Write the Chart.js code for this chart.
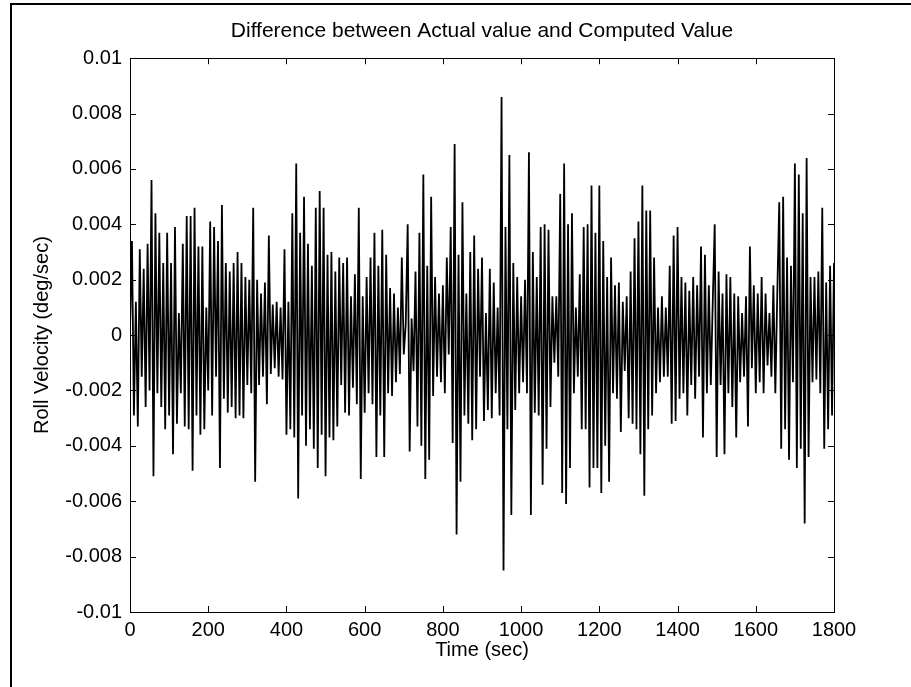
<!DOCTYPE html>
<html>
<head>
<meta charset="utf-8">
<script src="https://cdn.jsdelivr.net/npm/chart.js@4.4.1/dist/chart.umd.min.js"></script>
<style>
  html, body { margin: 0; padding: 0; background: #fff; }
  #wrap { width: 911px; height: 687px; }
</style>
</head>
<body>
<div id="wrap"><canvas id="diff-chart" width="911" height="687"></canvas></div>
<script>
// sampling step of the series (sec)
const sampleStep = 5;

// actual - computed roll velocity, in 1e-3 deg/sec, one value per sample
const rollDiffMilli = [
  0.2, 3.4, -2.9, 1.2, -3.3, 3.1, -1.5, 2.4, -2.6, 3.3, -2.0,
  5.6, -5.1, 4.4, -2.1, 3.7, -2.6, 2.6, -3.4, 3.7, -2.9, 2.6, -4.3, 3.9, -3.2, 0.8, -2.1,
  3.3, -3.3, 4.3, -3.4, 4.3, -4.9, 4.6, -2.9, 3.2, -3.6, 3.2, -3.4, 1.0, -2.0, 4.1, -2.9,
  3.9, -1.5, 3.4, -4.8, 4.7, -2.3, 2.6, -2.8, 2.3, -2.6, 2.6, -3.0, 3.0, -2.9,
  2.6, -3.0, 2.1, -1.8, 2.0, -2.1, 4.6, -5.3, 2.0, -1.8, 1.5, -1.5, 1.9, -2.5, 3.6, -1.4,
  1.1, -1.2, 1.2, -1.5, 1.0, -1.6, 3.1, -3.6, 1.2, -3.4, 4.4, -3.7, 6.2, -5.9, 3.7, -2.9,
  5.0, -4.0, 3.3, -3.4, 2.5, -4.1, 4.6, -4.8, 5.2, -3.6,
  4.6, -5.1, 2.9, -3.7, 3.0, -3.8, 2.3, -3.3, 2.8, -1.8, 2.6, -2.8, 2.8, -2.9, 1.4, -1.9,
  2.2, -2.5, 4.6, -5.2, 1.4, -2.8, 2.1, -2.1, 2.8, -2.5, 3.7, -4.4, 2.5, -2.9, 3.8, -4.4,
  2.9, -2.1, 1.7, -2.2, 1.5, -1.7, 1.0, -1.4, 2.8, -0.7, 0.4,
  4.0, -4.2, 0.6, -1.3, 2.3, -3.3, 3.7, -4.0, 5.8, -5.2, 2.5, -4.5, 5.0, -2.2, 2.1, -1.5,
  1.5, -1.7, 1.8, -2.1, 2.8, -0.7, 3.9, -3.9, 6.9, -7.2, 2.9, -5.3, 4.8, -2.9, 1.5, -3.2,
  3.0, -3.8, 3.6, -3.4, 2.4, -1.5, 2.8, -3.1, 0.8, -2.7, 2.4, -3.0,
  1.9, -2.1, 1.0, -2.9, 8.6, -8.5, 3.9, -3.4, 6.5, -6.5, 2.6, -2.7, 2.1, -2.1, 1.4, -1.7,
  2.0, -2.1, 6.6, -6.5, 3.0, -2.8, 2.1, -2.9, 3.9, -5.4, 4.0, -4.1, 3.8, -2.6, 1.4, -1.0,
  1.4, -1.5, 5.1, -5.7, 6.2, -6.1, 4.0, -4.8, 4.4, -2.1, 1.0, -1.5, 2.2,
  -3.4, 3.9, -3.4, 4.0, -5.5, 5.4, -4.8, 3.7, -4.8, 5.4, -5.7, 3.4, -4.0, 2.1, -5.3, 2.8,
  -2.1, 1.8, -2.3, 1.9, -3.5, 1.2, -1.3, 1.4, -3.0, 2.3, -3.2, 3.5, -3.4, 4.1, -4.3, 5.4,
  -5.8, 4.5, -3.4, 4.5, -2.9, 2.8, -2.1, 1.0, -1.7, 1.4, -1.5,
  1.0, -1.5, 2.5, -3.2, 3.6, -3.1, 3.9, -2.3, 2.1, -2.1, 1.9, -2.9, 1.6, -1.8, 2.1, -2.3,
  1.8, -1.5, 3.2, -3.7, 2.9, -2.1, 1.8, -1.8, 1.2, 4.0, -4.4, 2.3, -1.8, 1.5, -4.3, 2.2,
  -2.1, 2.1, -2.6, 1.5, -3.7, 1.4, -1.7, 0.8, -1.5, 1.4, -3.3, 3.2,
  -1.2, 1.8, -2.1, 1.5, -1.7, 2.1, -2.1, 1.5, -1.1, 0.8, -1.5, 1.8, -2.1, 1.5, 4.8, -4.1,
  5.0, -3.4, 2.8, -4.5, 2.5, -1.7, 6.2, -4.8, 5.8, -4.1, 4.4, -6.8, 6.4, -4.4, 2.1, -1.7,
  2.1, -1.6, 2.3, -2.1, 4.6, -4.1, 1.9, -3.4, 2.5, -2.9, 2.6
];

const xTicks = [0, 200, 400, 600, 800, 1000, 1200, 1400, 1600, 1800];
const yTicks = [-0.01, -0.008, -0.006, -0.004, -0.002, 0, 0.002, 0.004, 0.006, 0.008, 0.01];
const yTickLabels = ["-0.01", "-0.008", "-0.006", "-0.004", "-0.002", "0",
                     "0.002", "0.004", "0.006", "0.008", "0.01"];

const timeSec = rollDiffMilli.map((_, i) => i * sampleStep);
const points = rollDiffMilli.map((v, i) => ({ x: timeSec[i], y: v / 1000 }));

const textFont = { family: "'Liberation Sans', Arial, sans-serif", size: 20, weight: "normal" };

// white page with the figure frame (left + top edge)
const figureFrame = {
  id: "figureFrame",
  beforeDraw(chart) {
    const ctx = chart.ctx;
    ctx.save();
    ctx.fillStyle = "#fff";
    ctx.fillRect(0, 0, chart.width, chart.height);
    ctx.strokeStyle = "#000";
    ctx.lineWidth = 2;
    ctx.beginPath();
    ctx.moveTo(11, chart.height);
    ctx.lineTo(11, 4);
    ctx.lineTo(chart.width, 4);
    ctx.stroke();
    ctx.restore();
  }
};

// matlab style box with inward ticks on all four sides
const axesBox = {
  id: "axesBox",
  afterDatasetsDraw(chart) {
    const { ctx, chartArea: a, scales } = chart;
    const len = 6;
    ctx.save();
    ctx.strokeStyle = "#000";
    ctx.lineWidth = 1;
    ctx.strokeRect(Math.round(a.left) + 0.5, Math.round(a.top) + 0.5,
                   Math.round(a.right - a.left), Math.round(a.bottom - a.top));
    ctx.beginPath();
    xTicks.forEach((v) => {
      const px = Math.round(scales.x.getPixelForValue(v)) + 0.5;
      ctx.moveTo(px, a.bottom); ctx.lineTo(px, a.bottom - len);
      ctx.moveTo(px, a.top); ctx.lineTo(px, a.top + len);
    });
    yTicks.forEach((v) => {
      const py = Math.round(scales.y.getPixelForValue(v)) + 0.5;
      ctx.moveTo(a.left, py); ctx.lineTo(a.left + len, py);
      ctx.moveTo(a.right, py); ctx.lineTo(a.right - len, py);
    });
    ctx.stroke();
    ctx.restore();
  }
};

new Chart(document.getElementById("diff-chart"), {
  type: "line",
  data: {
    datasets: [{
      label: "Roll velocity difference",
      data: points,
      borderColor: "#000",
      borderWidth: 1.8,
      pointRadius: 0,
      tension: 0,
      fill: false
    }]
  },
  options: {
    responsive: false,
    animation: false,
    layout: { padding: { left: 0, right: 77, top: 0, bottom: 0 } },
    plugins: {
      legend: { display: false },
      tooltip: { enabled: false },
      title: {
        display: true,
        fullSize: false,
        text: "Difference between Actual value and Computed Value",
        color: "#000",
        font: { ...textFont, size: 21 },
        padding: { top: 19, bottom: 14 }
      }
    },
    scales: {
      x: {
        type: "linear",
        min: 0,
        max: 1800,
        afterBuildTicks: (s) => { s.ticks = xTicks.map((v) => ({ value: v })); },
        afterFit: (s) => { s.height = 75; },
        grid: { display: false, drawTicks: false },
        border: { display: false },
        ticks: {
          color: "#000",
          font: textFont,
          padding: 6,
          maxRotation: 0,
          autoSkip: false,
          callback: (v) => String(v)
        },
        title: { display: true, text: "Time (sec)", color: "#000", font: textFont, padding: { top: 0, bottom: 25 } }
      },
      y: {
        min: -0.01,
        max: 0.01,
        afterBuildTicks: (s) => { s.ticks = yTicks.map((v) => ({ value: v })); },
        afterFit: (s) => { s.width = 130; },
        grid: { display: false, drawTicks: false },
        border: { display: false },
        ticks: {
          color: "#000",
          font: textFont,
          padding: 8,
          autoSkip: false,
          callback: (v, i) => yTickLabels[i]
        },
        title: { display: true, text: "Roll Velocity (deg/sec)", color: "#000", font: textFont, padding: { top: 30, bottom: 0 } }
      }
    }
  },
  plugins: [figureFrame, axesBox]
});
</script>
</body>
</html>
